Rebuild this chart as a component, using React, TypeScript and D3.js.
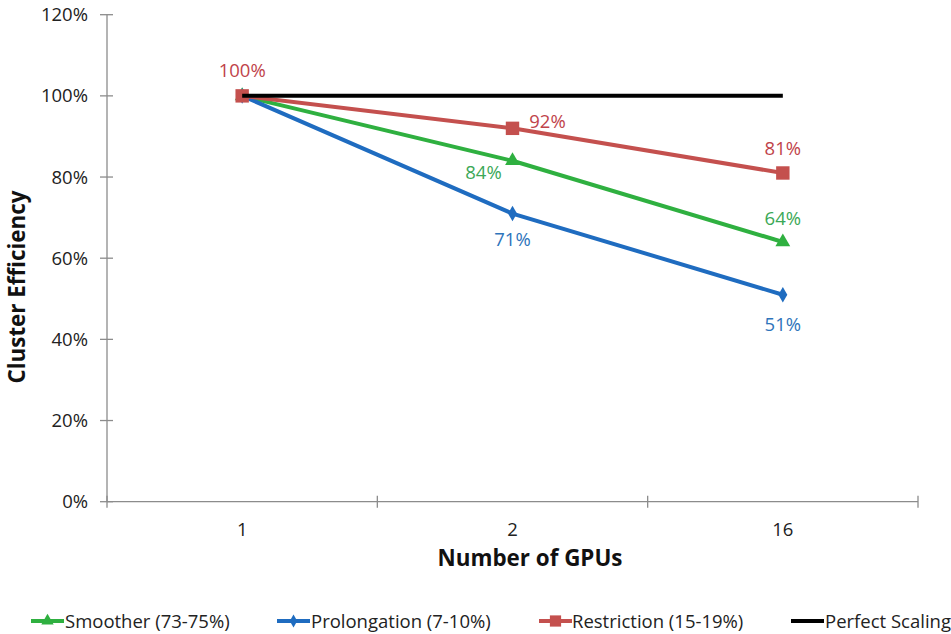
import React from "react";
import * as d3 from "d3";

const gpuCounts = ["1", "2", "16"];
const smoother = [100, 84, 64];
const prolongation = [100, 71, 51];
const restriction = [100, 92, 81];
const perfectScaling = [100, 100, 100];
const yTicks = [0, 20, 40, 60, 80, 100, 120];

const W = 951;
const H = 634;
const FONT = "'Open Sans', 'DejaVu Sans', sans-serif";

const x = d3.scaleBand<string>().domain(gpuCounts).range([107, 918]);
const y = d3.scaleLinear().domain([0, 120]).range([501.7, 14.7]);
const cx = (c: string) => (x(c) as number) + x.bandwidth() / 2;

type Marker = "triangle" | "diamond" | "square" | "none";

interface Series {
  name: string;
  values: number[];
  color: string;
  labelColor: string;
  marker: Marker;
  // label offset per point: [dx, dy] or null for no label
  labels: ([number, number] | null)[];
}

const series: Series[] = [
  {
    name: "Smoother (73-75%)",
    values: smoother,
    color: "#2fb040",
    labelColor: "#3ca857",
    marker: "triangle",
    labels: [null, [-29, 12], [0, -23]],
  },
  {
    name: "Prolongation (7-10%)",
    values: prolongation,
    color: "#1f6cc0",
    labelColor: "#2e74bb",
    marker: "diamond",
    labels: [null, [0, 26], [0, 30]],
  },
  {
    name: "Restriction (15-19%)",
    values: restriction,
    color: "#c4504e",
    labelColor: "#c0434a",
    marker: "square",
    labels: [[0, -25], [35, -7], [0, -24]],
  },
  {
    name: "Perfect Scaling",
    values: perfectScaling,
    color: "#000000",
    labelColor: "#000000",
    marker: "none",
    labels: [null, null, null],
  },
];

const line = d3
  .line<number>()
  .x((_, i) => cx(gpuCounts[i]))
  .y((v) => y(v));

function markerPath(m: Marker, size: number): string | null {
  if (m === "none") return null;
  const sym =
    m === "triangle" ? d3.symbolTriangle : m === "diamond" ? d3.symbolDiamond : d3.symbolSquare;
  return d3.symbol().type(sym).size(size)();
}

const markerSize: Record<Marker, number> = { triangle: 95, diamond: 70, square: 180, none: 0 };

const legendItems = [
  { x: 31, textX: 65 },
  { x: 277, textX: 311 },
  { x: 539, textX: 572 },
  { x: 791, textX: 825 },
];

export default function App() {
  const axisColor = "#8c8c8c";
  return (
    <svg
      width={W}
      height={H}
      style={{ position: "absolute", left: 0, top: 0, background: "#fff" }}
      fontFamily={FONT}
    >
      {/* y axis */}
      <line x1={107} x2={107} y1={y(0)} y2={y(120)} stroke={axisColor} strokeWidth={1.3} />
      {yTicks.map((t) => (
        <g key={t}>
          <line x1={100} x2={113} y1={y(t)} y2={y(t)} stroke={axisColor} strokeWidth={1.3} />
          <text x={88} y={y(t)} dy="0.35em" textAnchor="end" fontSize={18.5} fill="#222">
            {t}%
          </text>
        </g>
      ))}
      {/* x axis */}
      <line x1={107} x2={918} y1={y(0)} y2={y(0)} stroke={axisColor} strokeWidth={1.3} />
      {[...gpuCounts.map((c) => x(c) as number), 918].map((px, i) => (
        <line key={i} x1={px} x2={px} y1={y(0) - 6} y2={y(0) + 6} stroke={axisColor} strokeWidth={1.3} />
      ))}
      {gpuCounts.map((c) => (
        <text key={c} x={cx(c)} y={536} textAnchor="middle" fontSize={18.5} fill="#222">
          {c}
        </text>
      ))}
      {/* axis titles */}
      <text x={530} y={566} textAnchor="middle" fontSize={22.4} fontWeight="bold" fill="#111">
        Number of GPUs
      </text>
      <text
        transform={`translate(25, 287) rotate(-90)`}
        textAnchor="middle"
        fontSize={22.4}
        fontWeight="bold"
        fill="#111"
      >
        Cluster Efficiency
      </text>

      {/* series */}
      {series.map((s) => (
        <g key={s.name}>
          <path d={line(s.values) || ""} fill="none" stroke={s.color} strokeWidth={4} />
          {s.values.map((v, i) => {
            const p = markerPath(s.marker, markerSize[s.marker]);
            return p ? (
              <path key={i} d={p} transform={`translate(${cx(gpuCounts[i])},${y(v)})`} fill={s.color} />
            ) : null;
          })}
        </g>
      ))}

      {/* data labels */}
      {series.map((s) =>
        s.values.map((v, i) => {
          const l = s.labels[i];
          if (!l) return null;
          return (
            <text
              key={s.name + i}
              x={cx(gpuCounts[i]) + l[0]}
              y={y(v) + l[1]}
              dy="0.35em"
              textAnchor="middle"
              fontSize={18.5}
              fill={s.labelColor}
            >
              {v}%
            </text>
          );
        })
      )}

      {/* legend */}
      {series.map((s, i) => {
        const li = legendItems[i];
        const p = markerPath(s.marker, markerSize[s.marker] * 0.7);
        return (
          <g key={s.name}>
            <line x1={li.x} x2={li.x + 33} y1={621} y2={621} stroke={s.color} strokeWidth={4} />
            {p && <path d={p} transform={`translate(${li.x + 16.5},621)`} fill={s.color} />}
            <text x={li.textX} y={627.5} fontSize={18.5} fill="#222">
              {s.name}
            </text>
          </g>
        );
      })}
    </svg>
  );
}
